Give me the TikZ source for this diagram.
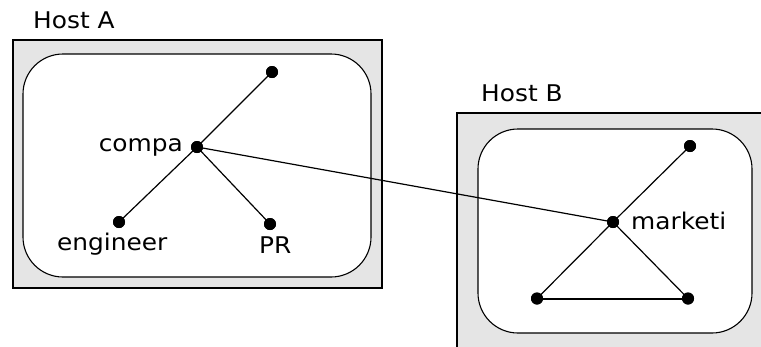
\documentclass[tikz,border=0pt]{standalone}
\usepackage{fontspec}
\setmainfont{DejaVu Sans}[FakeStretch=1.08]
\begin{document}
\begin{tikzpicture}[x=1pt,y=-1pt,
  hostbox/.style={draw=black,line width=2pt,fill=black!10},
  domainbox/.style={draw=black,line width=1.1pt,fill=white,rounded corners=40pt},
  dotnode/.style={circle,fill=black,inner sep=0pt,minimum size=12pt},
  link/.style={line width=1.2pt},
  lbl/.style={font=\fontsize{23}{27}\selectfont,inner sep=0pt}]
\useasboundingbox (0,0) rectangle (761,346);
\clip (0,0) rectangle (761,346);
% Host A
\draw[hostbox] (13,40) rectangle (382,288);
\draw[domainbox] (23,54) rectangle (371,277);
\node[lbl,anchor=base west] (hostA) at (33,28) {Host A};
% Host B
\draw[hostbox] (457,113) rectangle (775,360);
\draw[domainbox] (478,129) rectangle (752,333);
\node[lbl,anchor=base west] (hostB) at (481,101) {Host B};
% nodes A
\node[dotnode] (a1) at (272,72) {};
\node[dotnode] (compa) at (197,147) {};
\node[dotnode] (eng) at (119,222) {};
\node[dotnode] (pr) at (270,224) {};
% nodes B
\node[dotnode] (b1) at (690,146) {};
\node[dotnode] (mkt) at (613,222) {};
\node[dotnode] (b2) at (537,298.5) {};
\node[dotnode] (b3) at (688,298.5) {};
% labels
\node[lbl,anchor=base east] (lcompa) at (183,151) {compa};
\node[lbl,anchor=base west] (leng) at (57,250) {engineer};
\node[lbl,anchor=base west] (lpr) at (259,253) {PR};
\node[lbl,anchor=base west] (lmkt) at (631,229) {marketi};
% edges
\draw[link] (compa.center) -- (a1.center);
\draw[link] (compa.center) -- (eng.center);
\draw[link] (compa.center) -- (pr.center);
\draw[link] (compa.center) -- (mkt.center);
\draw[link] (mkt.center) -- (b1.center);
\draw[link] (mkt.center) -- (b2.center);
\draw[link] (mkt.center) -- (b3.center);
\draw[link,line width=2pt] (b2.center) -- (b3.center);
% dots on top of the lines
\foreach \n in {a1,compa,eng,pr,b1,mkt,b2,b3} \fill (\n) circle (6pt);
\end{tikzpicture}
\end{document}
